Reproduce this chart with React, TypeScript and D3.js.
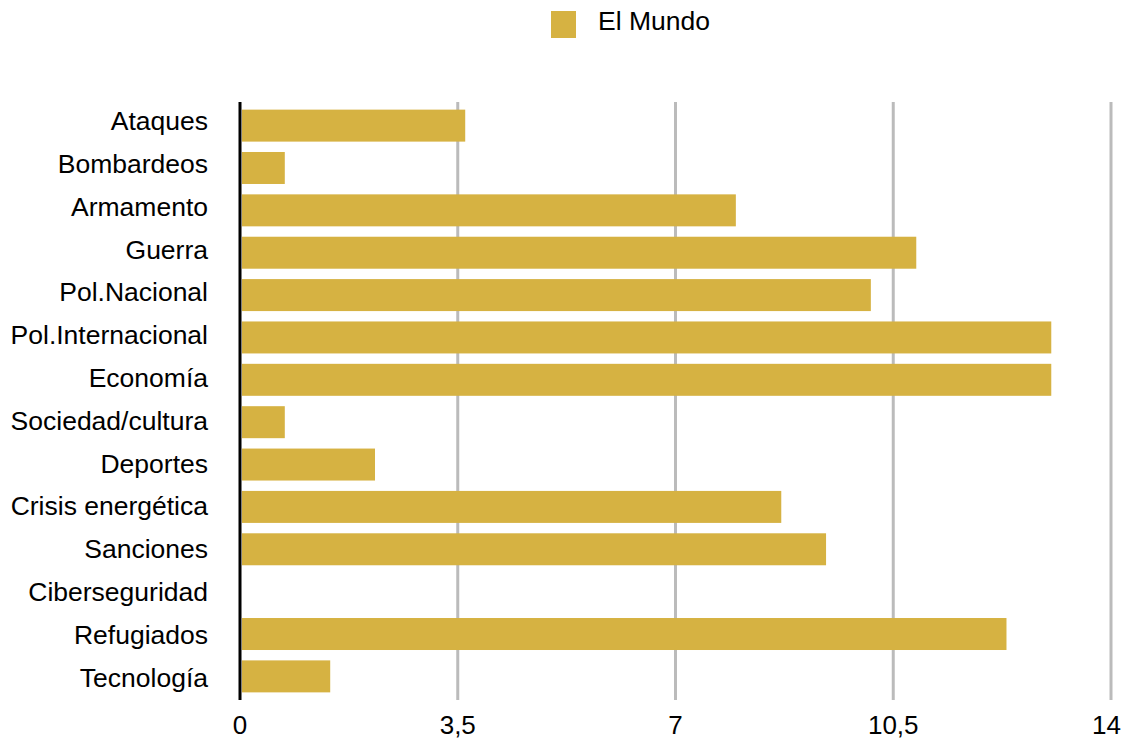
import React from "react";
import * as d3 from "d3";

const categories = [
  "Ataques", "Bombardeos", "Armamento", "Guerra", "Pol.Nacional", "Pol.Internacional",
  "Economía", "Sociedad/cultura", "Deportes", "Crisis energética", "Sanciones",
  "Ciberseguridad", "Refugiados", "Tecnología",
];
const values = [3.62, 0.72, 7.97, 10.87, 10.14, 13.04, 13.04, 0.72, 2.17, 8.7, 9.42, 0, 12.32, 1.45];
const ticks = [0, 3.5, 7, 10.5, 14];
const seriesName = "El Mundo";

const W = 1124, H = 740;
const left = 240, right = 1111, top = 102, bottom = 700;
const color = "#d6b242";
const font = "'Liberation Sans', Arial, sans-serif";

export default function App() {
  const x = d3.scaleLinear().domain([0, 14]).range([left, right]);
  const y = d3.scaleBand<string>().domain(categories).range([top, bottom]).paddingInner(0.245).paddingOuter(0.18);
  const yl = d3.scaleBand<string>().domain(categories).range([101, 700]);
  const fmt = (v: number) => String(v).replace(".", ",");
  return (
    <svg width={W} height={H} style={{ position: "absolute", left: 0, top: 0, background: "#fff" }} fontFamily={font}>
      <rect x={551} y={11} width={25} height={27} fill={color} />
      <text x={598} y={30} fontSize={26.5} fill="#000">{seriesName}</text>
      {ticks.filter(t => t > 0).map(t => (
        <line key={t} x1={x(t)} x2={x(t)} y1={top} y2={bottom} stroke="#bbb" strokeWidth={3} />
      ))}
      {categories.map((c, i) => (
        <rect key={c} x={x(0) + 2} y={y(c)!} width={Math.max(0, x(values[i]) - x(0) - 2)} height={y.bandwidth()} fill={color} />
      ))}
      <line x1={x(0)} x2={x(0)} y1={top} y2={bottom} stroke="#000" strokeWidth={3} />
      {categories.map(c => (
        <text key={c} x={208} y={yl(c)! + yl.bandwidth() / 2} dy="0.3em" textAnchor="end" fontSize={26.5} fill="#000">{c}</text>
      ))}
      {ticks.map((t, i) => {
        const last = i === ticks.length - 1;
        return (
          <text key={t} x={last ? W - 3 : x(t)} y={734} textAnchor={last ? "end" : "middle"} fontSize={26} fill="#000">{fmt(t)}</text>
        );
      })}
    </svg>
  );
}
